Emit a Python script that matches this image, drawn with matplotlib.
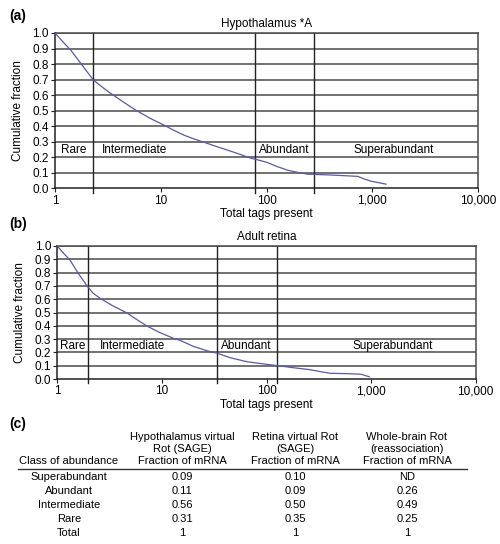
import matplotlib
matplotlib.use('Agg')
import matplotlib.pyplot as plt
from matplotlib.ticker import FixedLocator, NullLocator, FixedFormatter
from matplotlib.lines import Line2D

plt.rcParams['font.family'] = ['Liberation Sans', 'DejaVu Sans']
plt.rcParams['font.size'] = 8

# panel (a) - hypothalamus
hyp_tags = [1, 1.2, 1.41, 1.6, 1.81, 2.05, 2.31, 2.8, 3.36, 4.5, 5.8, 8, 10.7, 13.5, 16.6,
            20, 25, 33, 42.8, 55, 71, 85, 102, 125, 158, 200, 245, 400, 729, 850, 975, 1350]
hyp_frac = [1.0, 0.94, 0.89, 0.84, 0.792, 0.743, 0.697, 0.652, 0.612, 0.553, 0.504, 0.45,
            0.408, 0.372, 0.343, 0.322, 0.30, 0.272, 0.247, 0.222, 0.195, 0.182, 0.167, 0.142,
            0.118, 0.103, 0.092, 0.087, 0.078, 0.06, 0.047, 0.028]
hyp_bounds = [2.27, 78, 283]

# panel (b) - adult retina
ret_tags = [1, 1.15, 1.32, 1.6, 1.95, 2.2, 2.56, 3.4, 4.6, 5.8, 7.2, 9.5, 12.9, 15, 20,
            27.7, 34, 45, 65, 90, 128, 180, 261, 330, 405, 600, 800, 960]
ret_frac = [1.0, 0.945, 0.895, 0.79, 0.694, 0.645, 0.607, 0.55, 0.498, 0.445, 0.398, 0.35,
            0.306, 0.29, 0.245, 0.21, 0.193, 0.16, 0.13, 0.115, 0.10, 0.085, 0.07, 0.055,
            0.043, 0.04, 0.036, 0.017]
ret_bounds = [1.95, 34, 127]

classes = ['Rare', 'Intermediate', 'Abundant', 'Superabundant']

x_ticks = [1, 10, 100, 1000, 10000]
x_ticklabels = ['1', '10', '100', '1,000', '10,000']
y_ticks = [i / 10 for i in range(11)]
y_ticklabels = ['%.1f' % v for v in y_ticks]

# table (c)
tbl_rows = ['Superabundant', 'Abundant', 'Intermediate', 'Rare', 'Total']
tbl_hyp = ['0.09', '0.11', '0.56', '0.31', '1']
tbl_ret = ['0.10', '0.09', '0.50', '0.35', '1']
tbl_brain = ['ND', '0.26', '0.49', '0.25', '1']
tbl_heads = ['Class of abundance',
             'Hypothalamus virtual\nRot (SAGE)\nFraction of mRNA',
             'Retina virtual Rot\n(SAGE)\nFraction of mRNA',
             'Whole-brain Rot\n(reassociation)\nFraction of mRNA']

W, H = 500, 544
fig = plt.figure(figsize=(W / 100, H / 100), dpi=100)
grid_col = '#4a4a4a'
line_col = '#5a58a8'


def panel(rect, tags, frac, bounds, title, label_pos):
    ax = fig.add_axes(rect)
    ax.set_xscale('log')
    ax.set_xlim(1, 10000)
    ax.set_ylim(0, 1)
    for v in y_ticks[1:]:
        ax.axhline(v, color=grid_col, lw=1.1, zorder=1)
    for b in bounds:
        ax.axvline(b, ymin=-0.03, ymax=1, color='#222222', lw=1.0, clip_on=False, zorder=2)
    ax.plot(tags, frac, color=line_col, lw=0.9, zorder=3)
    for s in ax.spines.values():
        s.set_color(grid_col)
        s.set_linewidth(1.1)
    ax.spines['left'].set_color('#222222')
    ax.spines['bottom'].set_color('#222222')
    ax.xaxis.set_major_locator(FixedLocator(x_ticks))
    ax.xaxis.set_major_formatter(FixedFormatter(x_ticklabels))
    ax.xaxis.set_minor_locator(NullLocator())
    ax.set_yticks(y_ticks)
    ax.set_yticklabels(y_ticklabels)
    ax.tick_params(axis='both', direction='out', length=3, width=0.8, color='#222222',
                   labelsize=8.5, pad=1.5)
    ax.set_xlabel('Total tags present', fontsize=8.5, labelpad=1)
    ax.set_ylabel('Cumulative fraction', fontsize=8.5, labelpad=6)
    ax.set_title(title, fontsize=8.5, pad=4)
    for name, (xp, ha) in zip(classes, label_pos):
        ax.text(xp, 0.25, name, ha=ha, va='center', fontsize=8.5, zorder=4)
    return ax


ax_a = panel([55 / W, 1 - 188.5 / H, 423 / W, 155.5 / H], hyp_tags, hyp_frac, hyp_bounds,
             'Hypothalamus *A',
             [(1.5, 'center'), (2.75, 'left'), (148, 'center'), (1590, 'center')])
ax_b = panel([57.3 / W, 1 - 379 / H, 418.4 / W, 133 / H], ret_tags, ret_frac, ret_bounds,
             'Adult retina',
             [(1.4, 'center'), (2.56, 'left'), (64, 'center'), (1600, 'center')])

for lab, yy in [('(a)', 16), ('(b)', 224), ('(c)', 424)]:
    fig.text(9 / W, 1 - yy / H, lab, fontsize=10, fontweight='bold', va='center', ha='left')

# table (c)
col_x = [69, 182, 295, 407]
fig.text(col_x[0] / W, 1 - 461 / H, tbl_heads[0], ha='center', va='center', fontsize=8)
for cx, head in zip(col_x[1:], tbl_heads[1:]):
    fig.text(cx / W, 1 - 449 / H, head, ha='center', va='center', fontsize=8, linespacing=1.2)
fig.add_artist(Line2D([18 / W, 467 / W], [1 - 468.5 / H, 1 - 468.5 / H],
                     color='#333333', lw=1.0, transform=fig.transFigure))
for i, row in enumerate(tbl_rows):
    yy = 1 - (477.5 + i * 14) / H
    fig.text(col_x[0] / W, yy, row, ha='center', va='center', fontsize=8)
    for cx, col in zip(col_x[1:], [tbl_hyp, tbl_ret, tbl_brain]):
        fig.text(cx / W, yy, col[i], ha='center', va='center', fontsize=8)

fig.savefig('out.png', dpi=100)
